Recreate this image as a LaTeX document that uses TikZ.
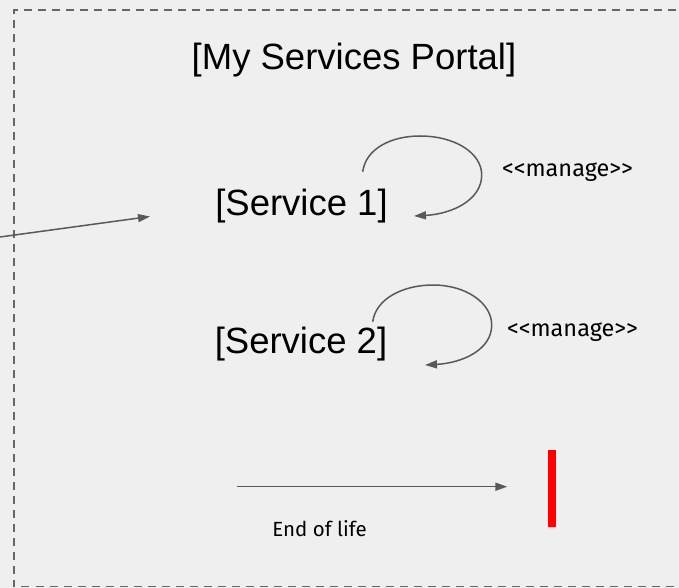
\documentclass[tikz,border=0pt]{standalone}
\usepackage{fontspec}
\setmainfont{Liberation Sans}
\newfontfamily\labelfont{Fira Sans}
\usetikzlibrary{arrows.meta}
\definecolor{bg}{HTML}{EFEFEF}
\definecolor{conn}{HTML}{595959}
\definecolor{frame}{HTML}{666666}
\begin{document}
\begin{tikzpicture}[x=1pt,y=-1pt,
  bigtext/.style={inner sep=0pt, font=\fontsize{36.5}{40}\selectfont},
  managetext/.style={inner sep=0pt, anchor=base, font=\labelfont\fontsize{23.5}{26}\selectfont},
  smalltext/.style={inner sep=0pt, anchor=base, font=\labelfont\fontsize{20.5}{24}\selectfont},
  connector/.style={draw=conn, line width=1.5pt, -{Triangle[length=12pt,width=8pt]}},
  framebox/.style={draw=frame, line width=1.3pt, dash pattern=on 8pt off 6pt}]
\fill[bg] (0,0) rectangle (679,588);
\useasboundingbox (0,0) rectangle (679,588);
\draw[framebox] (690,10) -- (14,10) -- (14,586.5) -- (690,586.5);
\node[bigtext] (portal) at (354,60) {[My Services Portal]};
\node[bigtext] (s1) at (301.5,206) {[Service 1]};
\node[bigtext] (s2) at (301,344) {[Service 2]};
\node[managetext] (m1) at (567.5,176.7) {<<manage>>};
\node[managetext] (m2) at (572.5,336) {<<manage>>};
\node[smalltext] (eol) at (319.5,536) {End of life};
\node[fill=red, minimum width=8pt, minimum height=77pt, inner sep=0pt] (bar) at (552,488) {};
\coordinate (ext) at (0,237);
\coordinate (s1in) at (150,216.5);
\coordinate (l1a) at (362.7,171.7);
\coordinate (l1b) at (414,216);
\coordinate (l2a) at (372.7,321.7);
\coordinate (l2b) at (425,365);
\coordinate (eola) at (237.3,486.7);
\coordinate (eolb) at (507.3,486.7);
\draw[connector] (ext) -- (s1in);
\draw[connector] (l1a) .. controls (366,148) and (392,136) .. (420,136)
  .. controls (455,136) and (481.7,153) .. (481.7,175)
  .. controls (481.7,200) and (452,214) .. (l1b);
\draw[connector] (l2a) .. controls (376,298) and (404,285) .. (433,285)
  .. controls (466,285) and (491.7,303) .. (491.7,325)
  .. controls (491.7,350) and (462,363) .. (l2b);
\draw[connector] (eola) -- (eolb);
\end{tikzpicture}
\end{document}
